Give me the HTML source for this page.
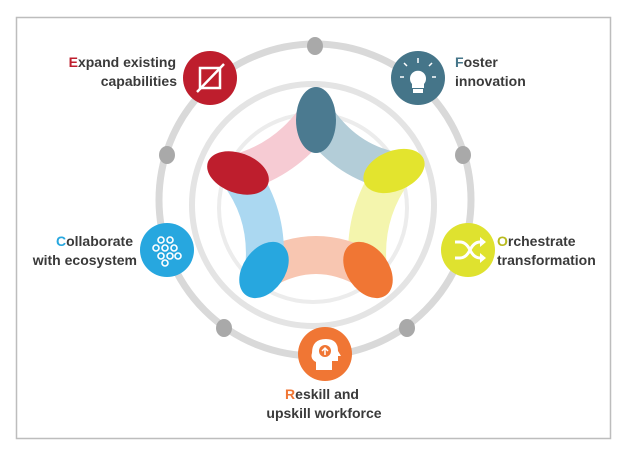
<!DOCTYPE html>
<html><head><style>body{margin:0;background:#fff}svg{display:block}text{font-family:"Liberation Sans",Arial,sans-serif;font-weight:bold;font-size:14px;fill:#3a3a3a}</style></head>
<body>
<svg width="627" height="459" viewBox="0 0 627 459" xmlns="http://www.w3.org/2000/svg">
<rect x="16.5" y="17.5" width="594" height="421" fill="#fff" stroke="#bdbdbd" stroke-width="1.5"/>
<circle cx="315" cy="200" r="156" fill="none" stroke="#d9d9d9" stroke-width="7"/>
<circle cx="313" cy="205" r="121" fill="none" stroke="#e4e4e4" stroke-width="6"/>
<circle cx="313" cy="208" r="94" fill="none" stroke="#ececec" stroke-width="4"/>
<g fill="#a9a9a9">
<ellipse cx="315" cy="46" rx="8" ry="9"/>
<ellipse cx="167" cy="155" rx="8" ry="9"/>
<ellipse cx="463" cy="155" rx="8" ry="9"/>
<ellipse cx="224" cy="328" rx="8" ry="9"/>
<ellipse cx="407" cy="328" rx="8" ry="9"/>
</g>
<g fill="none" stroke-width="38" stroke-linecap="butt">
<path d="M238 173 Q286 160 316 118" stroke="#f6cbd3"/>
<path d="M316 118 Q346 162 394 171" stroke="#b3cdd8"/>
<path d="M394 171 Q362 215 368 270" stroke="#f4f5ad"/>
<path d="M368 270 Q316 240 264 270" stroke="#f8c6b1"/>
<path d="M264 270 Q270 215 238 173" stroke="#abd8f1"/>
</g>
<ellipse cx="316" cy="120" rx="20" ry="33" fill="#4b7a90"/>
<ellipse cx="238" cy="173" rx="32" ry="20" fill="#be1e2d" transform="rotate(20 238 173)"/>
<ellipse cx="394" cy="171" rx="32" ry="20" fill="#e3e42e" transform="rotate(-22 394 171)"/>
<ellipse cx="264" cy="270" rx="21" ry="31" fill="#27a7df" transform="rotate(35 264 270)"/>
<ellipse cx="368" cy="270" rx="21" ry="31" fill="#f07634" transform="rotate(-35 368 270)"/>
<circle cx="210" cy="78" r="27" fill="#be1e2d"/>
<rect x="200" y="68" width="20" height="20" fill="none" stroke="#fff" stroke-width="2.5"/>
<line x1="197" y1="92" x2="224" y2="64" stroke="#fff" stroke-width="2.5"/>
<circle cx="418" cy="78" r="27" fill="#457589"/>
<path d="M412 84 a8 8 0 1 1 12 0 v4 h-12z" fill="#fff"/>
<rect x="413" y="89" width="10" height="4" fill="#fff"/>
<g stroke="#fff" stroke-width="1.5"><line x1="418" y1="58" x2="418" y2="63"/><line x1="404" y1="77" x2="400" y2="77"/><line x1="432" y1="77" x2="436" y2="77"/><line x1="407" y1="66" x2="404" y2="63"/><line x1="429" y1="66" x2="432" y2="63"/></g>
<circle cx="167" cy="250" r="27" fill="#27a7df"/>
<g fill="none" stroke="#fff" stroke-width="1.6">
<circle cx="161" cy="240" r="3"/><circle cx="170" cy="240" r="3"/><circle cx="156" cy="248" r="3"/><circle cx="165" cy="248" r="3"/><circle cx="174" cy="248" r="3"/><circle cx="161" cy="256" r="3"/><circle cx="170" cy="256" r="3"/><circle cx="178" cy="256" r="3"/><circle cx="165" cy="263" r="3"/>
</g>
<circle cx="468" cy="250" r="27" fill="#dfe22f"/>
<g fill="none" stroke="#fff" stroke-width="3"><path d="M455 242 h5 q6 0 10 8 q4 8 10 8 h4"/><path d="M455 258 h5 q6 0 10 -8 q4 -8 10 -8 h4"/></g>
<path d="M480 237 l6 5 l-6 5z M480 253 l6 5 l-6 5z" fill="#fff"/>
<circle cx="325" cy="354" r="27" fill="#f07634"/>
<path d="M316 370 v-8 q-6 -3 -4 -9 q0 -14 14 -14 q12 0 12 12 l3 5 h-3 v5 h-6 v9z" fill="#fff"/>
<circle cx="325" cy="351" r="6" fill="#f07634"/>
<path d="M325 355 v-6 M322 351 l3 -3 l3 3" stroke="#fff" stroke-width="1.5" fill="none"/>
<text x="176" y="67" text-anchor="end"><tspan fill="#be1e2d">E</tspan>xpand existing</text>
<text x="177" y="86" text-anchor="end">capabilities</text>
<text x="455" y="67"><tspan fill="#457589">F</tspan>oster</text>
<text x="455" y="86">innovation</text>
<text x="133" y="246" text-anchor="end"><tspan fill="#27a7df">C</tspan>ollaborate</text>
<text x="137" y="265" text-anchor="end">with ecosystem</text>
<text x="497" y="246"><tspan fill="#b8ba1e">O</tspan>rchestrate</text>
<text x="497" y="265">transformation</text>
<text x="322" y="399" text-anchor="middle"><tspan fill="#f07634">R</tspan>eskill and</text>
<text x="324" y="418" text-anchor="middle">upskill workforce</text>
</svg>
</body></html>
